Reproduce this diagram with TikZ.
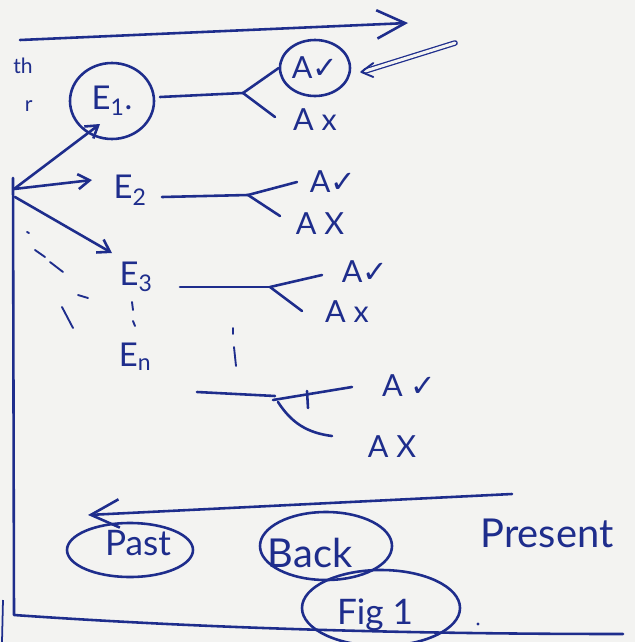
\documentclass[tikz,border=0pt]{standalone}
\usepackage{fontspec}
\setmainfont{Lato}
\newfontfamily\symfont{DejaVu Sans}
\usetikzlibrary{arrows.meta,shapes.geometric,calc}
\definecolor{ink}{RGB}{30,45,140}
\definecolor{paper}{RGB}{243,243,241}
\newcommand{\tick}{{\symfont ✓}}
\begin{document}
\begin{tikzpicture}[x=0.03cm,y=-0.03cm,
  pen/.style={draw=ink, line width=2.2pt, line cap=round, line join=round},
  thinpen/.style={draw=ink, line width=1.6pt, line cap=round},
  lbl/.style={text=ink, inner sep=1pt, font=\fontsize{26}{30}\selectfont},
  evt/.style={text=ink, inner sep=1pt, font=\fontsize{28}{32}\selectfont},
  ring/.style={ellipse, draw=ink, line width=2.2pt, inner sep=0pt},
  bigtip/.style={-{Straight Barb[length=0.85cm,width=0.85cm]}},
  smalltip/.style={-{Straight Barb[length=0.35cm,width=0.45cm]}}]

% sheet
\fill[paper] (0,0) rectangle (635,642);
\useasboundingbox (0,0) rectangle (635,642);

% word ends at the left margin
\node[lbl, anchor=east, font=\fontsize{18}{18}\selectfont] (frag1) at (34,66) {th};
\node[lbl, anchor=east, font=\fontsize{18}{18}\selectfont] (frag2) at (34,106) {r};

% time arrow at the top
\coordinate (TA) at (20,40);
\coordinate (TB) at (408,23);
\draw[pen, bigtip] (TA) -- (TB);

% events
\node[evt, ring, minimum width=2.52cm, minimum height=2.28cm] (E1) at (112,101) {E\textsubscript{1}.};
\node[evt] (E2) at (130,190) {E\textsubscript{2}};
\node[evt] (E3) at (136,277) {E\textsubscript{3}};
\node[evt] (En) at (135,357) {E\textsubscript{n}};

% outcomes
\node[lbl, ring, minimum width=2.1cm, minimum height=1.68cm] (A1ok) at (315,68) {A\tick};
\node[lbl] (A1no) at (315,120) {A x};
\node[lbl] (A2ok) at (333,182) {A\tick};
\node[lbl] (A2no) at (320,224) {A X};
\node[lbl] (A3ok) at (365,272) {A\tick};
\node[lbl] (A3no) at (347,312) {A x};
\node[lbl] (A4ok) at (409,386) {A \tick};
\node[lbl] (A4no) at (392,447) {A X};

% source point and arrows to the events
\coordinate (S) at (14,189);
\draw[pen, smalltip] (S) -- ([shift={(-12,23)}]E1.center);
\draw[pen, smalltip] (S) -- ([shift={(-38,-10)}]E2.center);
\draw[pen, smalltip] ([shift={(1,8)}]S) -- ([shift={(-24,-24)}]E3.center);

% branches
\coordinate (J1) at (243,93);
\draw[pen] ([shift={(48,-4)}]E1.center) -- (J1);
\draw[pen] (J1) -- (A1ok.west);
\draw[pen] (J1) -- ([shift={(-40,-3)}]A1no.center);

\coordinate (J2) at (248,195);
\draw[pen] ([shift={(32,7)}]E2.center) -- (J2);
\draw[pen] (J2) -- ([shift={(-36,0)}]A2ok.center);
\draw[pen] (J2) -- ([shift={(-40,-8)}]A2no.center);

\coordinate (J3) at (270,287);
\draw[pen] ([shift={(44,10)}]E3.center) -- (J3);
\draw[pen] (J3) -- ([shift={(-43,3)}]A3ok.center);
\draw[pen] (J3) -- ([shift={(-45,-1)}]A3no.center);

\coordinate (L4) at (197,392);
\coordinate (J4) at (275,396);
\draw[pen] (L4) -- (J4);
\draw[pen] ([shift={(-2,4)}]J4) -- ([shift={(-57,1)}]A4ok.center);
\draw[pen] (307,391) -- (308,408);
\draw[pen] ([shift={(3,6)}]J4) to[bend right=25] ([shift={(-60,-11)}]A4no.center);

% double arrow marking the chosen outcome
\coordinate (DS) at (455,43);
\coordinate (DT) at ([shift={(10,4)}]A1ok.east);
\draw[ink, line width=1.1pt, double=paper, double distance=2.6pt, line cap=round] (DS) -- ($(DT)+(4,-1)$);
\draw[pen, line width=1.6pt] ($(DT)+(12,-9)$) -- (DT) -- ($(DT)+(12,5)$);

% further events left open
\draw[thinpen] (27,232) -- (29,233);
\draw[thinpen] (35,250) -- (45,257);
\draw[thinpen] (50,262) -- (63,272);
\draw[thinpen] (78,295) -- (88,298);
\draw[thinpen] (62,307) -- (73,328);
\draw[thinpen] (132,302) -- (133,310);
\draw[thinpen] (133,321) -- (135,326);
\draw[thinpen] (233,328) -- (233,334);
\draw[thinpen] (234,347) -- (236,366);

% frame of the timeline
\draw[pen] (13,178) -- (14,615) .. controls (200,628) and (400,634) .. (623,634);
\draw[ink, line width=1.5pt] (3,600) -- (2,642);

% looking back in time
\coordinate (BA) at (512,494);
\coordinate (BB) at (88,515);
\draw[pen, bigtip] (BA) -- (BB);

\node[ring, minimum width=3.78cm, minimum height=1.62cm] (pastring) at (130,550) {};
\node[evt, font=\fontsize{30}{34}\selectfont] (past) at (138,543) {Past};
\node[ring, minimum width=3.96cm, minimum height=2.04cm] (backring) at (326,546) {};
\node[evt, font=\fontsize{34}{38}\selectfont] (back) at (310,553) {Back};
\node[evt, font=\fontsize{34}{38}\selectfont] (present) at (547,533) {Present};
\node[ring, minimum width=4.74cm, minimum height=2.28cm] (figring) at (381,608) {};
\node[evt, font=\fontsize{30}{34}\selectfont] (fig) at (375,615) {Fig 1};
\fill[ink] (478,624) circle (1.6);
\end{tikzpicture}
\end{document}
